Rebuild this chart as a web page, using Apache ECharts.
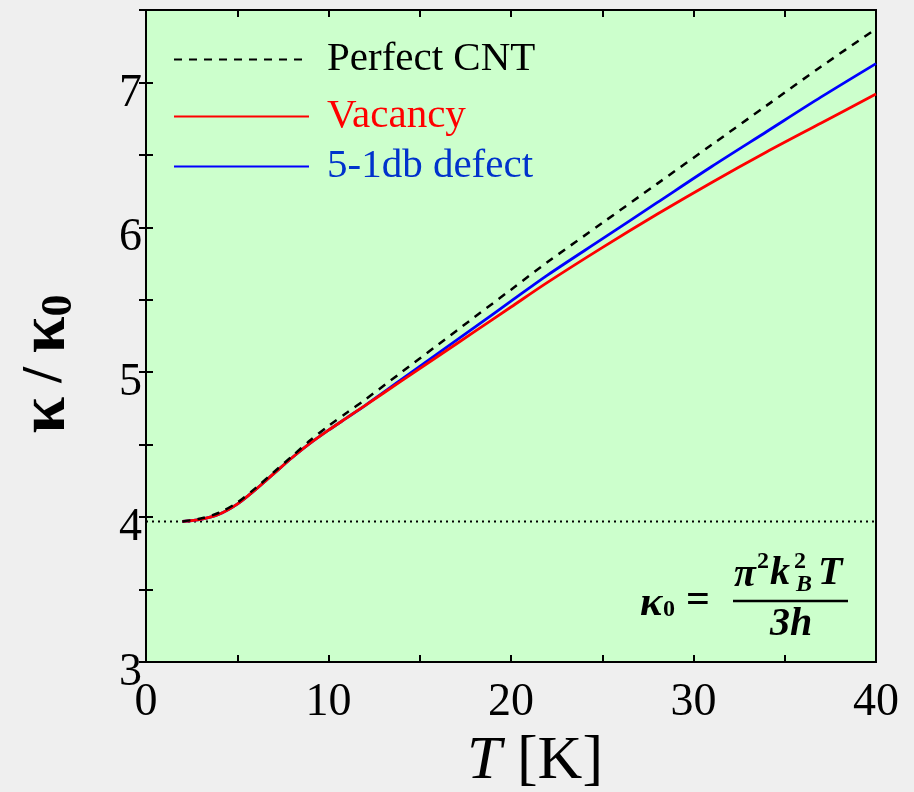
<!DOCTYPE html>
<html>
<head>
    <meta charset="UTF-8">
    <title>Thermal conductance of CNT</title>
    <script src="https://cdn.jsdelivr.net/npm/echarts@6/dist/echarts.min.js"></script>
    <style>
        body { margin: 0; background: #efefef; }
    </style>
</head>
<body>
    <div id="main" style="width: 914px;height:792px;"></div>
    <script type="text/javascript">
        var myChart = echarts.init(document.getElementById('main'));

        // temperature T [K]
        var temps = [2, 3, 4, 5, 6, 7, 8, 9, 10, 11, 12, 14, 16, 18, 20, 22, 25, 28, 31, 34, 37, 40];
        // kappa / kappa0
        var perfect = [3.97, 3.99, 4.03, 4.10, 4.20, 4.31, 4.42, 4.53, 4.63, 4.72, 4.81, 5.00, 5.19, 5.38, 5.57, 5.76, 6.03, 6.30, 6.57, 6.84, 7.11, 7.37];
        var vacancy = [3.97, 3.985, 4.02, 4.09, 4.19, 4.30, 4.41, 4.51, 4.60, 4.685, 4.77, 4.94, 5.11, 5.28, 5.45, 5.62, 5.86, 6.09, 6.31, 6.52, 6.72, 6.92];
        var defect = [3.97, 3.985, 4.02, 4.09, 4.19, 4.30, 4.41, 4.51, 4.60, 4.685, 4.77, 4.95, 5.13, 5.31, 5.49, 5.67, 5.92, 6.17, 6.42, 6.66, 6.90, 7.13];
        // dotted reference level
        var refT = [0, 40];
        var refLevel = [3.97, 3.97];

        function pairs(xs, ys) {
            return xs.map((x, i) => [x, ys[i]]);
        }

        var serif = 'Liberation Serif';
        var labelStyle = { fontFamily: serif, fontSize: 46, color: '#000' };

        var axisCommon = {
            axisLine: { lineStyle: { color: '#000', width: 2 } },
            axisTick: { inside: true, length: 7, lineStyle: { color: '#000', width: 2 } },
            splitLine: { show: false }
        };

        var legendCommon = {
            orient: 'vertical',
            left: 168,
            itemWidth: 135,
            itemHeight: 14,
            selectedMode: false,
            itemStyle: { opacity: 0 }
        };

        var option = {
            backgroundColor: '#efefef',
            animation: false,
            grid: {
                left: 146, top: 10, right: 38, bottom: 130,
                outerBoundsMode: 'none',
                show: true, backgroundColor: '#ccffcc', borderColor: '#000', borderWidth: 2
            },
            legend: [
                Object.assign({}, legendCommon, { top: 34, data: ['Perfect CNT'],
                    textStyle: { fontFamily: serif, fontSize: 41, color: '#000', padding: [0, 0, 0, 13] } }),
                Object.assign({}, legendCommon, { top: 91, data: ['Vacancy'],
                    textStyle: { fontFamily: serif, fontSize: 41, color: '#ff0000', padding: [0, 0, 0, 13] } }),
                Object.assign({}, legendCommon, { top: 141, data: ['5-1db defect'],
                    textStyle: { fontFamily: serif, fontSize: 41, color: '#0033cc', padding: [0, 0, 0, 13] } })
            ],
            xAxis: [
                Object.assign({}, axisCommon, {
                    type: 'value', min: 0, max: 40, interval: 5,
                    axisLabel: Object.assign({
                        margin: 18,
                        formatter: v => (v % 10 === 0 ? v : '')
                    }, labelStyle),
                    name: '{i|T} [K]',
                    nameLocation: 'middle',
                    nameGap: 67,
                    nameTextStyle: {
                        fontFamily: serif, fontSize: 62, color: '#000', padding: [0, 0, 0, 48],
                        rich: { i: { fontFamily: serif, fontSize: 62, fontStyle: 'italic', color: '#000' } }
                    }
                }),
                Object.assign({}, axisCommon, {
                    type: 'value', min: 0, max: 40, interval: 5, position: 'top',
                    axisLabel: { show: false }
                })
            ],
            yAxis: [
                Object.assign({}, axisCommon, {
                    type: 'value', min: 3, max: 7.5, interval: 0.5,
                    axisLabel: Object.assign({
                        margin: 4,
                        verticalAlign: 'top',
                        lineHeight: 22,
                        formatter: v => (v % 1 === 0 ? v : '')
                    }, labelStyle),
                    name: '{k|κ} / {k|κ}{s|0}',
                    nameLocation: 'middle',
                    nameRotate: 90,
                    nameGap: 64,
                    nameTextStyle: {
                        fontFamily: serif, fontSize: 56, fontWeight: 'bold', color: '#000',
                        padding: [0, 56, 0, 0],
                        rich: {
                            k: { fontFamily: serif, fontSize: 66, fontWeight: 'bold', color: '#000' },
                            s: { fontFamily: serif, fontSize: 44, color: '#000', padding: [26, 0, 0, 0] }
                        }
                    }
                }),
                Object.assign({}, axisCommon, {
                    type: 'value', min: 3, max: 7.5, interval: 0.5, position: 'right',
                    axisLabel: { show: false }
                })
            ],
            series: [
                {
                    name: 'Perfect CNT', type: 'line', symbol: 'none', smooth: 0.3,
                    data: pairs(temps, perfect),
                    lineStyle: { color: '#000', width: 2.5, type: [8, 7] },
                    itemStyle: { color: '#000' }, z: 4
                },
                {
                    name: 'Vacancy', type: 'line', symbol: 'none', smooth: 0.3,
                    data: pairs(temps, vacancy),
                    lineStyle: { color: '#ff0000', width: 2.8 },
                    itemStyle: { color: '#ff0000' }, z: 3
                },
                {
                    name: '5-1db defect', type: 'line', symbol: 'none', smooth: 0.3,
                    data: pairs(temps, defect),
                    lineStyle: { color: '#0000ff', width: 2.8 },
                    itemStyle: { color: '#0000ff' }, z: 2
                },
                {
                    name: 'ref', type: 'line', symbol: 'none', silent: true,
                    data: pairs(refT, refLevel),
                    lineStyle: { color: '#000', width: 2, type: [2, 4] }, z: 1
                }
            ],
            graphic: [
                { type: 'text', left: 640, top: 583, style: { text: 'κ', font: 'bold italic 42px ' + serif, fill: '#000' } },
                { type: 'text', left: 663, top: 598, style: { text: '0', font: 'bold 24px ' + serif, fill: '#000' } },
                { type: 'text', left: 686, top: 580, style: { text: '=', font: 'bold 42px ' + serif, fill: '#000' } },
                { type: 'line', shape: { x1: 733, y1: 601, x2: 848, y2: 601 }, style: { stroke: '#000', lineWidth: 2.5 } },
                { type: 'text', left: 734, top: 556, style: { text: 'π', font: 'bold italic 40px ' + serif, fill: '#000' } },
                { type: 'text', left: 757, top: 550, style: { text: '2', font: 'bold 24px ' + serif, fill: '#000' } },
                { type: 'text', left: 770, top: 554, style: { text: 'k', font: 'bold italic 40px ' + serif, fill: '#000' } },
                { type: 'text', left: 794, top: 550, style: { text: '2', font: 'bold 24px ' + serif, fill: '#000' } },
                { type: 'text', left: 796, top: 573, style: { text: 'B', font: 'bold italic 24px ' + serif, fill: '#000' } },
                { type: 'text', left: 818, top: 554, style: { text: 'T', font: 'bold italic 40px ' + serif, fill: '#000' } },
                { type: 'text', left: 770, top: 605, style: { text: '3h', font: 'bold italic 40px ' + serif, fill: '#000' } }
            ]
        };

        myChart.setOption(option);
    </script>
</body>
</html>
